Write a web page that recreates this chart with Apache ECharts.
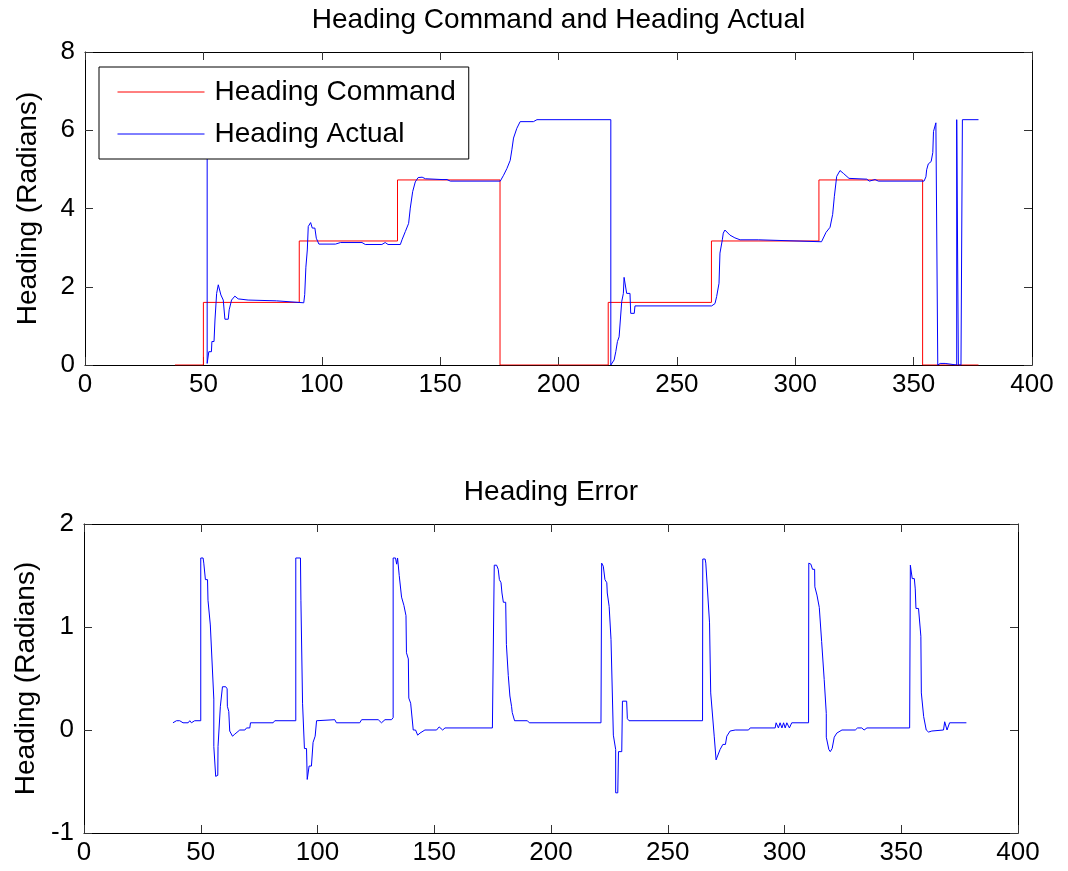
<!DOCTYPE html>
<html>
<head>
<meta charset="utf-8">
<title>Heading Command and Heading Actual</title>
<script src="https://cdn.jsdelivr.net/npm/echarts@6/dist/echarts.min.js"></script>
<style>
  html, body { margin: 0; padding: 0; background: #fff; }
  #chart { width: 1068px; height: 871px; }
</style>
</head>
<body>
<div id="chart"></div>
<script>
// heading command (step input)
var cmdX = [38, 50, 50, 90.5, 90.5, 132, 132, 175.3, 175.3, 221, 221, 264.6, 264.6,
  310, 310, 353.8, 353.8, 377.4];
var cmdY = [0, 0, 1.6, 1.6, 3.17, 3.17, 4.73, 4.73, 0, 0, 1.6, 1.6, 3.17,
  3.17, 4.73, 4.73, 0, 0];

// heading actual
var actX = [38, 51.6, 51.6, 52.3, 53.4, 53.6, 54.5, 54.9, 55.6, 56.3, 57.0, 57.4, 58.4,
  59.1, 60.5, 60.9, 61.9, 63.3, 64.7, 68.9, 69.6, 80.9, 81.6, 92.4, 92.8, 93.3, 93.9,
  94.3, 95.3, 96.0, 97.1, 97.7, 98.8, 105.8, 107.9, 117, 118.4, 125.4, 126.8, 128,
  133.2, 133.9, 135.3, 136.7, 137.4, 138.4, 139.5, 140.7, 142.4, 143.8, 150.8, 151.5,
  152.9, 154.3, 175.4, 176.8, 178.2, 179.6, 180.3, 181, 182.4, 183.8, 189.4, 190.9,
  222.1, 222.1, 223.5, 224.2, 224.9, 225.6, 226.4, 226.7, 227.4, 227.7, 228.5, 228.8,
  230.2, 230.5, 232.0, 232.3, 264.7, 266.1, 266.8, 267.8, 268.2, 269.2, 269.6, 270.3,
  272.4, 274.5, 276.7, 284.4, 285.1, 311.1, 311.8, 313, 314.7, 315.8, 316.5, 317.5,
  318.9, 320.3, 322.7, 330.2, 331.3, 333.7, 335.1, 354.4, 355.2, 355.5, 356.2, 357.4,
  358.1, 358.4, 359.1, 359.4, 360.1, 360.2, 361.2, 363.3, 364, 368.2, 368.2, 368.9,
  370.0, 370.6, 377.4];
var actY = [6.21, 6.21, 0.04, 0.34, 0.34, 0.6, 0.6, 1.15, 1.83, 2.05, 2.0, 1.79, 1.66,
  1.17, 1.17, 1.41, 1.66, 1.76, 1.69, 1.66, 1.64, 1.64, 1.59, 1.59, 1.8, 2.5, 2.94,
  3.54, 3.64, 3.5, 3.5, 3.24, 3.09, 3.09, 3.13, 3.13, 3.08, 3.08, 3.13, 3.08,
  3.08, 3.2, 3.41, 3.62, 4.01, 4.43, 4.68, 4.79, 4.8, 4.76, 4.74, 4.7,
  4.74, 4.7, 4.7, 4.85, 5.02, 5.23, 5.5, 5.8, 6.05, 6.22, 6.22, 6.27,
  6.27, 0, 0.13, 0.34, 0.6, 0.72, 0.72, 1.62, 1.83, 2.24, 2.24, 1.83,
  1.83, 1.32, 1.32, 1.51, 1.51, 1.57, 1.75, 2.09, 2.86, 3.2, 3.37, 3.45,
  3.32, 3.25, 3.2, 3.2, 3.15, 3.15, 3.2, 3.39, 3.52, 3.85, 4.3, 4.82,
  4.97, 4.9, 4.77, 4.75, 4.7, 4.74, 4.7, 4.7, 4.81, 4.99, 5.14, 5.2,
  5.43, 5.97, 5.99, 6.19, 6.19, 0, 0.04, 0.04, 0, 0, 6.27, 0,
  0, 6.27, 6.27];

// heading error
var errX = [38.1, 39.6, 41, 42.4, 44.6, 45.3, 46, 47.4, 50, 50, 51, 51.3, 51.7, 52, 52.9,
  53.1, 53.9, 54.1, 54.9, 55.6, 55.6, 56.4, 57.3, 57.4, 58.4, 59.1, 59.3, 60.7, 61.3,
  61.4, 62, 62.4, 63.6, 64.6, 66.7, 68.9, 69.6, 71, 71.3, 81, 81.7, 90.7, 90.7, 92.7,
  92.9, 93.6, 93.6, 94.4, 94.4, 95.3, 95.6, 96.4, 96.4, 97.4, 98.1, 99, 99.6, 100.3,
  107.4, 108.1, 118.1, 118.9, 126, 127.4, 128.9, 131.7, 132.4, 132.4, 133.4, 133.9,
  134.3, 135, 136, 137, 137.9, 138.1, 138.9, 139.1, 139.9, 141, 142, 142.9, 143.9, 146,
  151, 152.1, 153.6, 154.6, 174.9, 175.7, 176.7, 177.4, 177.9, 178.6, 179, 179.6,
  180.6, 180.9, 181.6, 181.7, 182.4, 182.4, 183.1, 183.4, 184.1, 184.4, 189.9, 190.7,
  221.4, 221.7, 222.4, 223.1, 223.9, 224.1, 224.9, 225.7, 226.4, 226.7, 227.7, 227.7,
  228.6, 228.9, 230.3, 230.6, 232.4, 232.7, 233.4, 264.9, 265, 266, 266.3, 267, 267.9,
  268.4, 269.9, 270.7, 272.4, 273.6, 274.7, 275.3, 276.7, 278.9, 284.6, 285.3, 296,
  296.4, 297.4, 298.1, 298.9, 299.6, 300.3, 301, 302.1, 303.1, 310.3, 310.4, 311.3,
  312, 312.9, 313, 313.9, 314.6, 314.9, 315.6, 315.9, 316.7, 317, 317.9, 317.9, 318.7,
  319, 319.6, 320.4, 321.3, 322.4, 324.6, 330.3, 331.3, 333.1, 334.1, 335.3, 353.6,
  353.9, 354.6, 354.7, 355.6, 356, 356.3, 357.4, 358.4, 358.6, 359.3, 359.6, 360.3,
  360.7, 361.7, 363.1, 363.9, 368.1, 368.6, 369.6, 370.3, 370.7, 377.9];
var errY = [0.07, 0.09, 0.09, 0.07, 0.07, 0.09, 0.07, 0.09, 0.09, 1.67, 1.67, 1.62, 1.62, 1.46, 1.46,
  1.26, 1.26, 1.02, 1.02, 0.3, -0.16, -0.45, -0.44, -0.16, 0.23, 0.23, 0.42, 0.42, 0.4,
  0.23, 0.18, -0.01, -0.06, -0.04, 0, 0, 0.02, 0.02, 0.07, 0.07, 0.09, 0.09, 1.67, 1.67,
  1.26, 1.26, 0.26, 0.26, -0.18, -0.18, -0.48, -0.48, -0.35, -0.35, -0.12, -0.06, 0.09, 0.1,
  0.1, 0.07, 0.07, 0.1, 0.1, 0.07, 0.1, 0.1, 0.12, 1.67, 1.67, 1.61,
  1.67, 1.5, 1.29, 1.21, 1.11, 0.75, 0.69, 0.31, 0.26, 0, 0, -0.05, -0.03, 0,
  0, 0.03, 0, 0.02, 0.02, 1.6, 1.6, 1.56, 1.46, 1.43, 1.33, 1.24,
  1.24, 0.83, 0.83, 0.53, 0.53, 0.33, 0.23, 0.17, 0.17, 0.09, 0.09, 0.07,
  0.07, 1.62, 1.59, 1.46, 1.43, 1.33, 1.2, 0.88, 0.88, -0.05, -0.19, -0.61,
  -0.61, -0.21, -0.21, 0.28, 0.28, 0.11, 0.09, 0.09, 1.66, 1.66, 1.62, 1.61, 1.04,
  0.36, -0.06, -0.29, -0.19, -0.14, -0.14, -0.06, -0.01, 0, 0, 0.02, 0.02,
  0.07, 0.02, 0.07, 0.02, 0.07, 0.02, 0.07, 0.02, 0.07, 0.07, 1.62, 1.61,
  1.56, 1.56, 1.39, 1.31, 1.31, 1.19, 1.19, 0.86, 0.86, 0.49, 0.16, -0.07, -0.07,
  -0.19, -0.21, -0.18, -0.07, -0.03, 0, 0, 0.02, 0.02, 0, 0.02, 0.02,
  1.6, 1.6, 1.47, 1.47, 1.37, 1.18, 1.18, 0.91, 0.36, 0.36, 0.13, 0.12,
  0, -0.02, -0.01, 0, 0, 0.08, 0, 0, 0.07, 0.07];

var xTicks = { min: 0, max: 400, interval: 50 };
var headTicks = { min: 0, max: 8, interval: 2 };
var errTicks = { min: -1, max: 2, interval: 1 };

var FONT = 'Liberation Sans, Arial, Helvetica, sans-serif';

function pairs(xs, ys) {
  return xs.map(function each(x, i) {
    return [x, ys[i]];
  });
}

// one matlab-style axis; labelled or just the inward ticks of the box
function makeAxis(kind, gridIndex, position, ticks, labelled, name, nameGap) {
  var axis = {
    type: 'value',
    gridIndex: gridIndex,
    position: position,
    min: ticks.min,
    max: ticks.max,
    interval: ticks.interval,
    axisLine: { show: true, onZero: false, lineStyle: { color: '#000', width: 1 } },
    axisTick: { show: true, inside: true, length: 8, lineStyle: { color: '#333', width: 1 } },
    axisLabel: {
      show: labelled,
      color: '#000',
      fontFamily: FONT,
      fontSize: 26,
      margin: kind === 'x' ? 7 : 10
    },
    splitLine: { show: false }
  };
  if (name) {
    axis.name = name;
    axis.nameLocation = 'middle';
    axis.nameGap = nameGap;
    axis.nameTextStyle = { color: '#000', fontFamily: FONT, fontSize: 28 };
  }
  return axis;
}

var chart = echarts.init(document.getElementById('chart'), null, { renderer: 'canvas' });

var option = {
  animation: false,
  backgroundColor: '#fff',
  grid: [
    { left: 85, right: 36, top: 52, height: 313, containLabel: false },
    { left: 84, right: 50, top: 524, height: 309, containLabel: false }
  ],
  xAxis: [
    makeAxis('x', 0, 'bottom', xTicks, true),
    makeAxis('x', 0, 'top', xTicks, false, 'Heading Command and Heading Actual', 18),
    makeAxis('x', 1, 'bottom', xTicks, true),
    makeAxis('x', 1, 'top', xTicks, false, 'Heading Error', 18)
  ],
  yAxis: [
    makeAxis('y', 0, 'left', headTicks, true, 'Heading (Radians)', 43),
    makeAxis('y', 0, 'right', headTicks, false),
    makeAxis('y', 1, 'left', errTicks, true, 'Heading (Radians)', 42),
    makeAxis('y', 1, 'right', errTicks, false)
  ],
  legend: {
    data: ['Heading Command', 'Heading Actual'],
    orient: 'vertical',
    left: 99,
    top: 67,
    backgroundColor: '#fff',
    borderColor: '#000',
    borderWidth: 1,
    borderRadius: 0,
    padding: [10, 13, 10, 18],
    itemGap: 12,
    itemWidth: 87,
    itemHeight: 3,
    selectedMode: false,
    itemStyle: { opacity: 0 },
    lineStyle: { width: 1 },
    textStyle: {
      color: '#000',
      fontFamily: FONT,
      fontSize: 28,
      lineHeight: 30,
      padding: [0, 0, 0, 5]
    }
  },
  series: [
    {
      name: 'Heading Command',
      type: 'line',
      xAxisIndex: 0,
      yAxisIndex: 0,
      data: pairs(cmdX, cmdY),
      symbol: 'none',
      color: '#ff0000',
      lineStyle: { color: '#ff0000', width: 1 }
    },
    {
      name: 'Heading Actual',
      type: 'line',
      xAxisIndex: 0,
      yAxisIndex: 0,
      data: pairs(actX, actY),
      symbol: 'none',
      color: '#0000ff',
      lineStyle: { color: '#0000ff', width: 1 }
    },
    {
      name: 'Heading Error',
      type: 'line',
      xAxisIndex: 2,
      yAxisIndex: 2,
      data: pairs(errX, errY),
      symbol: 'none',
      color: '#0000ff',
      lineStyle: { color: '#0000ff', width: 1 }
    }
  ]
};

chart.setOption(option);
</script>
</body>
</html>
